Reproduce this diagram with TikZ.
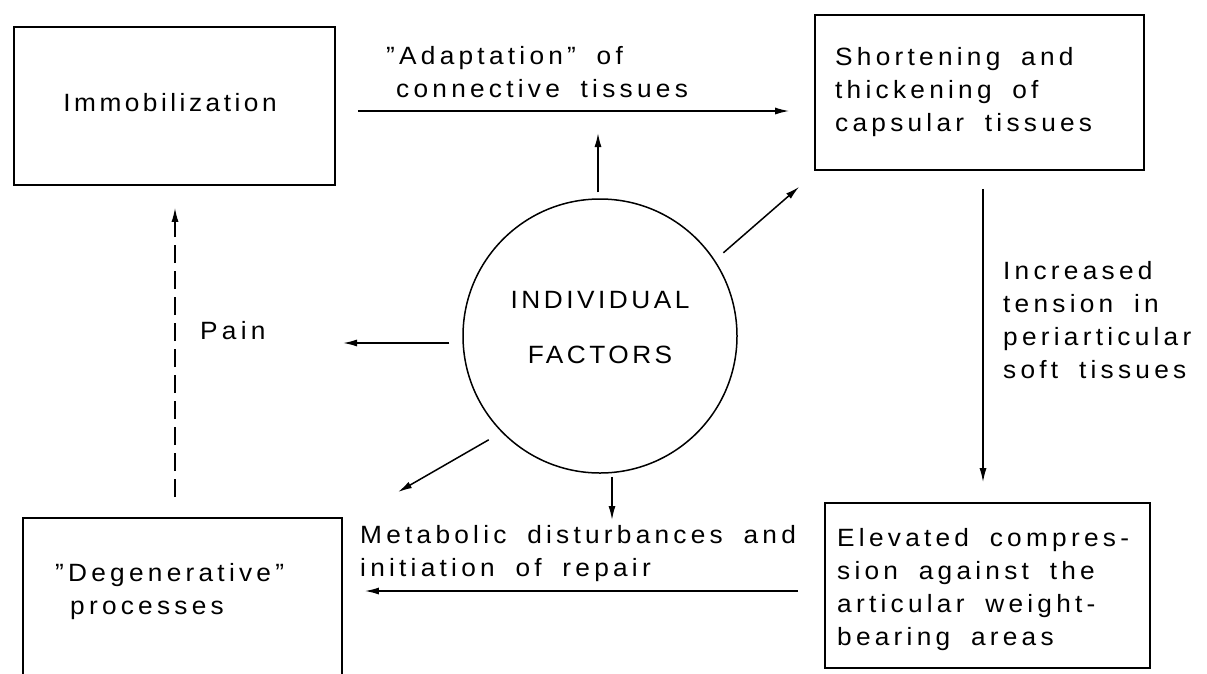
\documentclass[tikz,border=0pt]{standalone}
\usepackage{fontspec}
\setmainfont{Liberation Sans}[LetterSpace=17, FakeStretch=1.05, WordSpace=1.8]
\newfontfamily\narrowfont{Liberation Sans}[LetterSpace=14, FakeStretch=1.05]
\usetikzlibrary{arrows.meta,calc}
\begin{document}
\begin{tikzpicture}[x=1pt,y=-1pt,
  box/.style={draw, line width=1.6pt, rectangle, inner sep=0pt},
  lbl/.style={inner sep=0pt, align=left, anchor=west, font=\fontsize{25}{33}\selectfont},
  ctr/.style={inner sep=0pt, align=center, font=\narrowfont\fontsize{25}{33}\selectfont},
  arr/.style={line width=1.5pt, -{Latex[length=14pt,width=7pt]}},
]
\useasboundingbox (0,0) rectangle (1207,673);
\clip (0,0) rectangle (1207,673);

% boxes
\node[box, minimum width=321pt, minimum height=158pt] (immob) at (174.5,106) {};
\node[box, minimum width=329pt, minimum height=155pt] (short) at (979.5,92.5) {};
\node[box, minimum width=319pt, minimum height=182pt] (degen) at (182.5,609) {};
\node[box, minimum width=325pt, minimum height=165pt] (elev) at (987.5,585.5) {};
\node[draw, circle, line width=1.5pt, minimum size=274pt, inner sep=0pt] (ind) at (600,336) {};

% texts
\node[ctr] (timmob) at (170,103) {Immobilization};
\node[lbl] (tshort) at (835,92) {Shortening and\\thickening of\\capsular tissues};
\node[lbl] (telev) at (837,590) {Elevated compres-\\sion against the\\articular weight-\\bearing areas};
\node[lbl] (tdegen) at (55,592) {"Degenerative"\\\hspace{15pt}processes};
\node[ctr] (tind) at (600,328) {INDIVIDUAL\\[22pt]FACTORS};
\node[lbl] (tadapt) at (386,72) {"Adaptation" of\\\hspace{10pt}connective tissues};
\node[lbl] (tincr) at (1003,320) {Increased\\tension in\\periarticular\\soft tissues};
\node[lbl] (tmeta) at (360,554) {Metabolic disturbances and\\initiation of repair};
\node[lbl] (tpain) at (200,331) {Pain};

% helper coordinates
\coordinate (yA) at (0,111);
\coordinate (yB) at (0,591);
\coordinate (xR) at (983,0);
\coordinate (xL) at (175,0);
\coordinate (upE) at (598,133);
\coordinate (painE) at (343,343);
\coordinate (swE) at (398,492);
\coordinate (dnE) at (612,520);

% main cycle
\draw[arr] ([xshift=22pt]immob.east |- yA) -- ([xshift=-25pt]short.west |- yA);
\draw[arr] ([yshift=-18pt]short.south -| xR) -- ([yshift=20pt]elev.north -| xR);
\draw[arr] ([xshift=-26pt]elev.west |- yB) -- ([xshift=22pt]degen.east |- yB);
\draw[arr, dash pattern=on 18pt off 8pt] ([yshift=20pt]degen.north -| xL) -- ([yshift=-22pt]immob.south -| xL);

% arrows from the circle
\draw[arr] ([yshift=6pt]ind.north -| upE) -- (upE);
\draw[arr] ($(ind.center)!1.08!(ind.34.5)$) -- ($(short.south west)+(-15,16)$);
\draw[arr] ($(ind.west)+(-13,7)$) -- (painE);
\draw[arr] ($(ind.center)!1.105!(ind.223)$) -- (swE);
\draw[arr] ($(ind.south)+(12,3)$) -- (dnE);
\end{tikzpicture}
\end{document}
